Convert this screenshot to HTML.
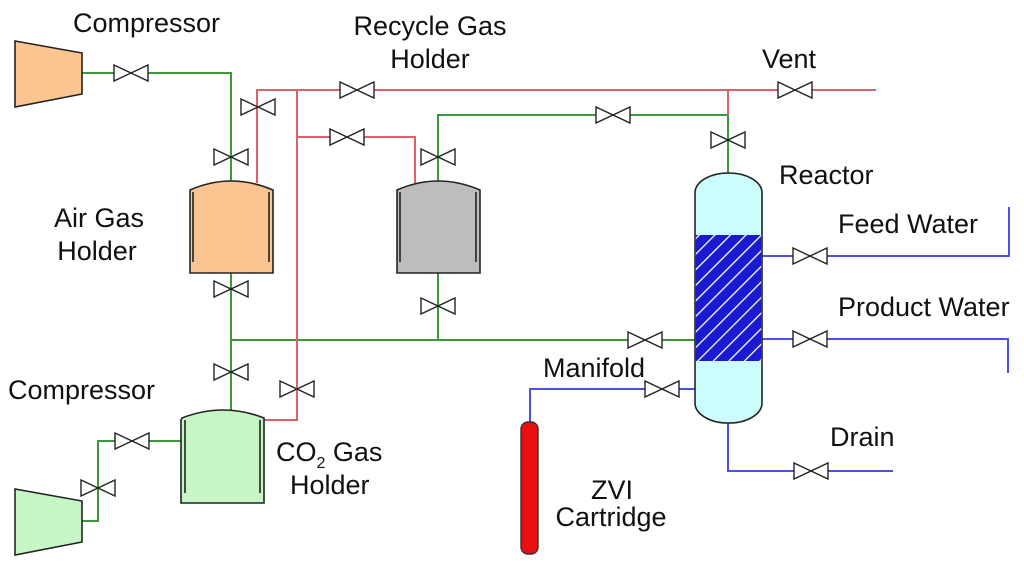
<!DOCTYPE html>
<html><head><meta charset="utf-8"><style>
html,body{margin:0;padding:0;background:#fff}
svg text{font-family:"Liberation Sans",Arial,sans-serif;font-size:27px;fill:#111}
</style></head><body>
<svg width="1024" height="565" viewBox="0 0 1024 565" xmlns="http://www.w3.org/2000/svg">
<defs>
<g id="vh"><path d="M-17,-8 L17,8 L17,-8 L-17,8 Z" fill="#fff" stroke="#222" stroke-width="1.4"/></g>
<pattern id="hatch" width="11" height="11" patternUnits="userSpaceOnUse" patternTransform="rotate(45)">
<rect width="11" height="11" fill="#1a1ad0"/><rect x="0" width="1.3" height="11" fill="#fff"/>
</pattern>
</defs>
<g fill="none" stroke-width="2">
<g stroke="#3a9a3a">
<polyline points="82,73 231,73 231,182"/>
<polyline points="231,273 231,412"/>
<polyline points="231,340 695,340"/>
<polyline points="438,182 438,115 728,115"/>
<polyline points="438,273 438,340"/>
<polyline points="728,115 728,174"/>
<polyline points="181,441 98,441 98,521 82,521"/>
</g>
<g stroke="#e0606a">
<polyline points="257,183 257,90 876,90"/>
<polyline points="297,90 297,420 262,420"/>
<polyline points="297,137 415,137 415,183"/>
<polyline points="728,90 728,115"/>
</g>
<g stroke="#5050e0">
<polyline points="761,256 1009,256 1009,207"/>
<polyline points="761,339 1008,339 1008,373"/>
<polyline points="695,389 530,389 530,424"/>
<polyline points="728,420 728,471 893,471"/>
</g>
</g>
<polygon points="15,41 82,53 82,94 15,107" fill="#fbc592" stroke="#222" stroke-width="1.6"/>
<polygon points="15,489 82,501 82,542 15,555" fill="#c6f5c6" stroke="#222" stroke-width="1.6"/>
<path d="M190,190 Q231,172 273,190 L273,273 L190,273 Z" fill="#fbc592" stroke="#222" stroke-width="1.6"/>
<path d="M193,192 V262 M269,192 V262" stroke="#222" stroke-width="1.6"/>
<path d="M397,190 Q438,172 480,190 L480,273 L397,273 Z" fill="#bdbdbd" stroke="#222" stroke-width="1.6"/>
<path d="M400,192 V262 M476,192 V262" stroke="#222" stroke-width="1.6"/>
<path d="M182,418 Q223,402 264,418 L264,503 L181,503 L181,420 Z" fill="#c6f5c6" stroke="#222" stroke-width="1.6"/>
<path d="M185,420 V493 M260,420 V493" stroke="#222" stroke-width="1.6"/>
<rect x="695" y="173" width="67" height="250" rx="33" ry="20" fill="#ccfcfc" stroke="#222" stroke-width="1.6"/>
<rect x="695.8" y="235" width="65.4" height="126" fill="url(#hatch)"/>
<rect x="521" y="422" width="17" height="132" rx="7" fill="#e81010" stroke="#333" stroke-width="1.4"/>
<use href="#vh" x="131" y="73"/>
<use href="#vh" x="258" y="107"/>
<use href="#vh" x="357" y="90"/>
<use href="#vh" x="231" y="157"/>
<use href="#vh" x="347" y="137"/>
<use href="#vh" x="438" y="157"/>
<use href="#vh" x="613" y="115"/>
<use href="#vh" x="728" y="140"/>
<use href="#vh" x="795" y="90"/>
<use href="#vh" x="231" y="289"/>
<use href="#vh" x="438" y="306"/>
<use href="#vh" x="645" y="340"/>
<use href="#vh" x="231" y="372"/>
<use href="#vh" x="297" y="389"/>
<use href="#vh" x="132" y="441"/>
<use href="#vh" x="98" y="488"/>
<use href="#vh" x="810" y="256"/>
<use href="#vh" x="810" y="339"/>
<use href="#vh" x="662" y="389"/>
<use href="#vh" x="811" y="471"/>
<text x="73" y="32">Compressor</text>
<text x="430" y="35" text-anchor="middle">Recycle Gas</text>
<text x="430" y="68" text-anchor="middle">Holder</text>
<text x="762" y="68">Vent</text>
<text x="779" y="184">Reactor</text>
<text x="838" y="233">Feed Water</text>
<text x="838" y="316">Product Water</text>
<text x="830" y="446">Drain</text>
<text x="543" y="377">Manifold</text>
<text x="612" y="499" text-anchor="middle">ZVI</text>
<text x="611" y="526" text-anchor="middle">Cartridge</text>
<text x="99" y="227" text-anchor="middle">Air Gas</text>
<text x="97" y="260" text-anchor="middle">Holder</text>
<text x="8" y="399">Compressor</text>
<text x="276" y="461">CO<tspan font-size="16" dy="7">2</tspan><tspan dy="-7"> Gas</tspan></text>
<text x="290" y="494">Holder</text>
</svg>
</body></html>
